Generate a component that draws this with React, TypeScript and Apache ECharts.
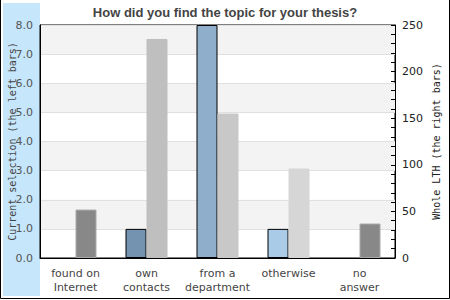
import React, { useEffect, useRef } from "react";
import * as echarts from "echarts";

const categories = ["found on\nInternet", "own\ncontacts", "from a\ndepartment", "otherwise", "no\nanswer"];
const currentSelection = [0, 1, 8, 1, 0];
const wholeLTH = [52, 235, 155, 96, 37];
const leftColors = ["#7393b0", "#7393b0", "#8eaecb", "#a9cbe8", "#7393b0"];
const rightColors = ["#888888", "#bfbfbf", "#c8c8c8", "#d6d6d6", "#888888"];
const rightBorders = ["#aaaaaa", "#bfbfbf", "#c8c8c8", "#d6d6d6", "#aaaaaa"];
const leftTicks = [0, 1, 2, 3, 4, 5, 6, 7, 8];

export default function App() {
  const ref = useRef<HTMLDivElement>(null);
  useEffect(() => {
    document.body.style.margin = "0";
    const chart = echarts.init(ref.current!, null, { renderer: "svg" });
    chart.setOption({
      animation: false,
      title: {
        text: "How did you find the topic for your thesis?",
        left: "center",
        top: 1,
        textStyle: { fontFamily: "Liberation Sans", fontWeight: "bold", fontSize: 13, color: "#444" },
      },
      graphic: [
        { type: "rect", z: -10, shape: { x: 3, y: 3, width: 37, height: 293 }, style: { fill: "#c6e6fb" } },
        { type: "polyline", z: 10, shape: { points: [[0.5, 0], [0.5, 298.5], [449.5, 298.5], [449.5, 0]] }, style: { stroke: "#000", fill: "none", lineWidth: 1 } },
      ],
      grid: {
        left: 40, right: 55, top: 25, bottom: 42,
        containLabel: false, outerBoundsMode: "none",
        show: true, borderColor: "#000", borderWidth: 1, backgroundColor: "transparent",
      },
      xAxis: {
        type: "category",
        data: categories,
        axisLine: { lineStyle: { color: "#000" } },
        axisTick: { show: false },
        axisLabel: { color: "#444", fontSize: 11, fontFamily: "DejaVu Sans", margin: 8, lineHeight: 14, interval: 0 },
      },
      yAxis: [
        {
          type: "value",
          min: 0,
          max: 8,
          interval: 1,
          position: "left",
          name: "Current selection (the left bars)",
          nameLocation: "middle",
          nameRotate: 90,
          nameGap: 23,
          nameMoveOverlap: false,
          nameTextStyle: { fontFamily: "DejaVu Sans Mono", fontSize: 10, color: "#444" },
          axisLine: { show: true, lineStyle: { color: "#000" } },
          axisTick: { show: false },
          axisLabel: { color: "#555", fontSize: 11, fontFamily: "DejaVu Sans", margin: 7, formatter: (v: number) => (leftTicks.includes(v) ? v.toFixed(1) : "") },
          splitLine: { show: true, lineStyle: { color: "#e0e0e0" } },
          splitArea: { show: true, areaStyle: { color: ["rgba(255,255,255,0)", "#f3f3f3"] } },
        },
        {
          type: "value",
          min: 0,
          max: 250,
          interval: 50,
          position: "right",
          name: "Whole LTH (the right bars)",
          nameLocation: "middle",
          nameRotate: 90,
          nameGap: 36,
          nameMoveOverlap: false,
          nameTextStyle: { fontFamily: "DejaVu Sans Mono", fontSize: 10, color: "#222" },
          axisLine: { show: true, lineStyle: { color: "#000" } },
          axisTick: { show: true, inside: true, length: 4, lineStyle: { color: "#000" } },
          minorTick: { show: true, splitNumber: 5, length: 4, lineStyle: { color: "#000" } },
          axisLabel: { color: "#222", fontSize: 11, fontFamily: "DejaVu Sans", margin: 7 },
          splitLine: { show: false },
        },
      ],
      series: [
        {
          type: "bar",
          yAxisIndex: 0,
          barWidth: 21,
          barGap: "0%",
          data: currentSelection.map((v, i) => ({
            value: v,
            itemStyle: { color: leftColors[i], borderColor: "#000", borderWidth: v > 0 ? 1 : 0 },
          })),
        },
        {
          type: "bar",
          yAxisIndex: 1,
          barWidth: 21,
          barGap: "0%",
          data: wholeLTH.map((v, i) => ({
            value: v,
            itemStyle: { color: rightColors[i], borderColor: rightBorders[i], borderWidth: 1 },
          })),
        },
      ],
    });
    return () => chart.dispose();
  }, []);
  return <div ref={ref} style={{ width: 450, height: 300 }} />;
}
